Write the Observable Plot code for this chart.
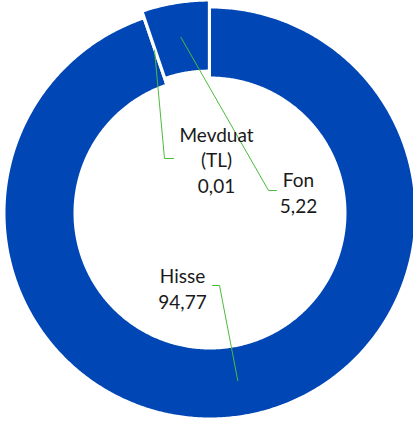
<!DOCTYPE html>
<html>
<head>
<meta charset="utf-8">
<script src="https://cdn.jsdelivr.net/npm/d3@7"></script>
<script src="https://cdn.jsdelivr.net/npm/@observablehq/plot@0.6"></script>
<style>
  html, body { margin: 0; padding: 0; background: #fff; }
  #chart svg { display: block; }
</style>
</head>
<body>
<div id="chart"></div>
<script>
// ---- data ----
const categories = ["Hisse", "Mevduat (TL)", "Fon"];
const values = [94.77, 0.01, 5.22];
const valueLabels = ["94,77", "0,01", "5,22"];
const nameLines = ["Hisse", "Mevduat\n(TL)", "Fon"];

// ---- layout (chart units, centre of donut at 0,0, y up) ----
const W = 413, H = 421;
const cx = 209.5, cy = 212.5;
const rOuter = 205.5, rInner = 135.5;
const explode = [0, 0, 7];
const leaderStartR = [170, 172, 171];
const leaderElbow = [[9.5, -72.5], [-45.5, 54.5], [58.5, 22.5]];
const leaderEnd = [[2.5, -72.5], [-36.5, 54.5], [66.5, 22.5]];
const labelPos = [[-27.5, -74.5], [6.5, 54], [88.5, 21.5]];

const ringColor = "#0046b5";
const leaderColor = "#4cbb3c";

const pie = d3.pie().sort(null).value(d => d)(values);

const pt = (r, a, off, am) => ({
  x: r * Math.sin(a) + off * Math.sin(am),
  y: r * Math.cos(a) + off * Math.cos(am)
});

const slices = [];
pie.forEach((p, i) => {
  const am = (p.startAngle + p.endAngle) / 2;
  const n = Math.max(2, Math.ceil((p.endAngle - p.startAngle) / (Math.PI / 360)));
  for (let k = 0; k <= n; k++) {
    const a = p.startAngle + (p.endAngle - p.startAngle) * k / n;
    slices.push({key: categories[i], ...pt(rOuter, a, explode[i], am)});
  }
  for (let k = n; k >= 0; k--) {
    const a = p.startAngle + (p.endAngle - p.startAngle) * k / n;
    slices.push({key: categories[i], ...pt(rInner, a, explode[i], am)});
  }
});

const leaders = [];
pie.forEach((p, i) => {
  const am = (p.startAngle + p.endAngle) / 2;
  const s = pt(leaderStartR[i], am, explode[i], am);
  leaders.push({key: categories[i], x: s.x, y: s.y});
  leaders.push({key: categories[i], x: leaderElbow[i][0], y: leaderElbow[i][1]});
  leaders.push({key: categories[i], x: leaderEnd[i][0], y: leaderEnd[i][1]});
});

const labels = categories.map((c, i) => ({
  x: labelPos[i][0], y: labelPos[i][1],
  text: nameLines[i] + "\n" + valueLabels[i]
}));

const chart = Plot.plot({
  width: W,
  height: H,
  margin: 0,
  x: {domain: [-cx, W - cx], axis: null},
  y: {domain: [cy - H, cy], axis: null},
  marks: [
    Plot.line(slices, {x: "x", y: "y", z: "key", fill: ringColor, stroke: "white", strokeWidth: 2, curve: "linear-closed"}),
    Plot.line(leaders, {x: "x", y: "y", z: "key", stroke: leaderColor, strokeWidth: 1}),
    Plot.text(labels, {x: "x", y: "y", text: "text", fontSize: 19, lineHeight: 1.35, fontFamily: "Lato", fill: "#1a1a1a", lineAnchor: "middle"})
  ]
});
chart.style.fontFamily = "Lato";
document.getElementById("chart").appendChild(chart);
</script>
</body>
</html>
